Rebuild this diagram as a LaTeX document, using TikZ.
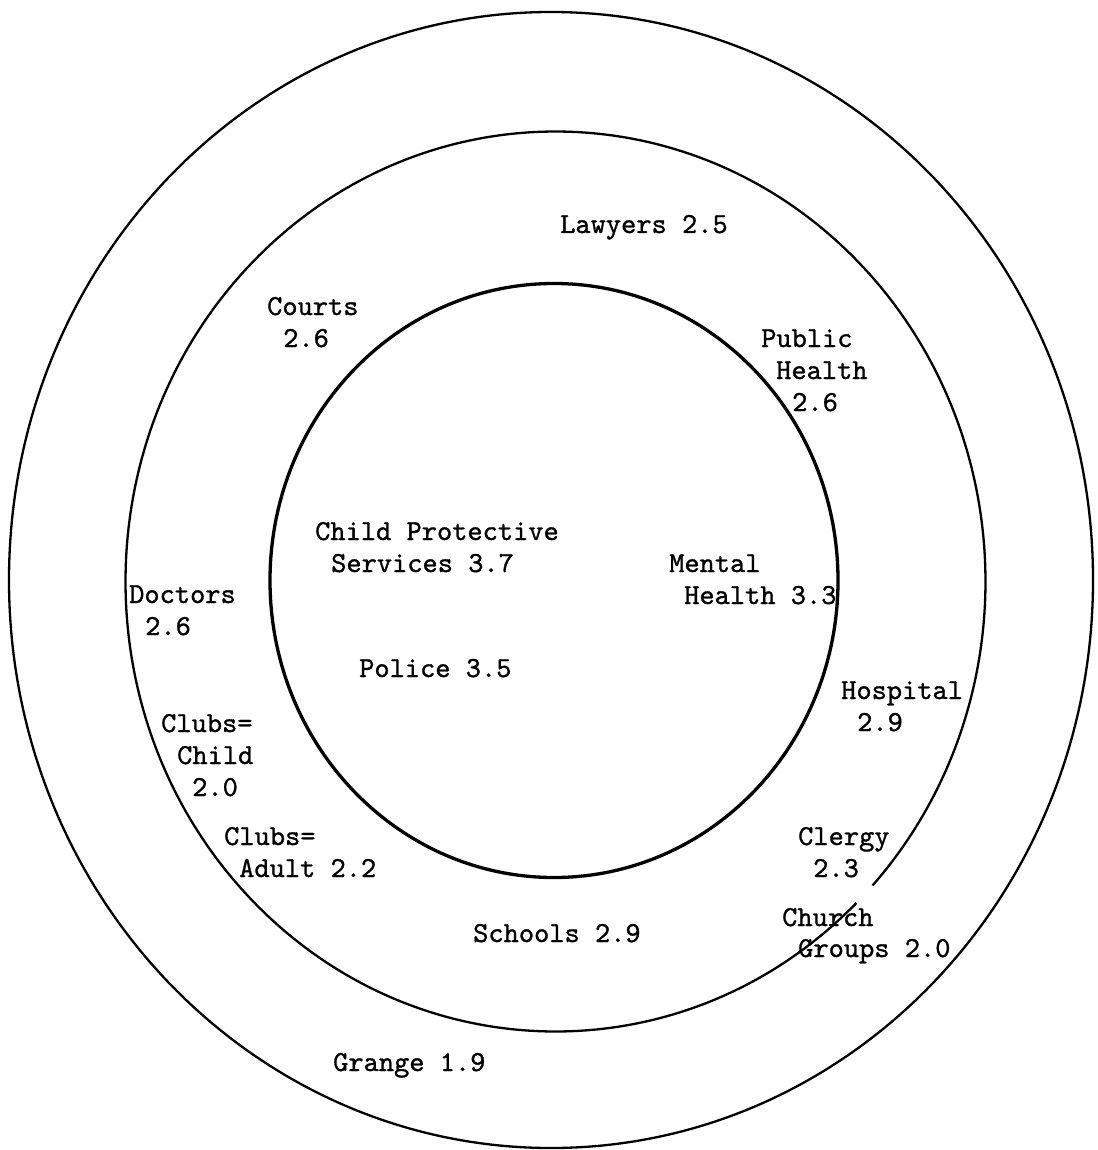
\documentclass[tikz,border=0pt]{standalone}
\usepackage{fontspec}
\newfontfamily\twfont{lmmono10-regular.otf}[FakeBold=1]
\begin{document}
\begin{tikzpicture}[x=1pt,y=-1pt,
  ring/.style={line width=2.3pt},
  core/.style={line width=3.3pt},
  lbl/.style={anchor=base west, inner sep=0pt, font=\fontsize{29}{32}\selectfont\twfont}]
\useasboundingbox[fill=white] (0,0) rectangle (1097,1150);
% rings
\coordinate (c0) at (551,580);
\coordinate (c1) at (555.5,581.5);
\coordinate (c2) at (554,580.5);
\draw[ring] (c0) ellipse [x radius=542, y radius=568];
\draw[ring] (c1) ++(45.6:430 and 450) arc[start angle=45.6, end angle=402.5, x radius=430, y radius=450];
\draw[core] (c2) ellipse [x radius=284, y radius=297];
% labels
\node[lbl] (law) at (560,233) {Lawyers 2.5};
\node[lbl] (crt1) at (267,315) {Courts};
\node[lbl] (crt2) at (283,347) {2.6};
\node[lbl] (ph1) at (761,347) {Public};
\node[lbl] (ph2) at (776,379) {Health};
\node[lbl] (ph3) at (792,411) {2.6};
\node[lbl] (cps1) at (315,540) {Child Protective};
\node[lbl] (cps2) at (331,572) {Services 3.7};
\node[lbl] (mh1) at (669,572) {Mental};
\node[lbl] (mh2) at (684,604) {Health 3.3};
\node[lbl] (doc1) at (129,603) {Doctors};
\node[lbl] (doc2) at (145,635) {2.6};
\node[lbl] (pol) at (359,677) {Police 3.5};
\node[lbl] (hos1) at (841,699) {Hospital};
\node[lbl] (hos2) at (857,731) {2.9};
\node[lbl] (cc1) at (161,732) {Clubs=};
\node[lbl] (cc2) at (177,764) {Child};
\node[lbl] (cc3) at (192,796) {2.0};
\node[lbl] (ca1) at (224,845) {Clubs=};
\node[lbl] (ca2) at (239,877) {Adult 2.2};
\node[lbl] (cle1) at (798,845) {Clergy};
\node[lbl] (cle2) at (813,877) {2.3};
\node[lbl] (ch1) at (782,926) {Church};
\node[lbl] (ch2) at (798,957) {Groups 2.0};
\node[lbl] (sch) at (473,942) {Schools 2.9};
\node[lbl] (gra) at (333,1071) {Grange 1.9};
\end{tikzpicture}
\end{document}
